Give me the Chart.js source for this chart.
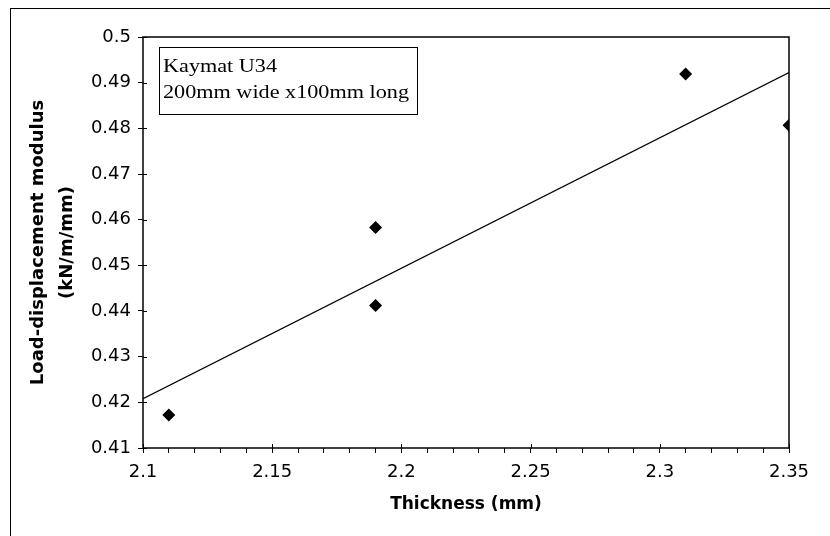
<!DOCTYPE html>
<html lang="en">

<head>
  <meta charset="UTF-8">
  <title>Load-displacement modulus vs thickness</title>
  <script src="https://cdn.jsdelivr.net/npm/chart.js"></script>
  <style>
    body {
      margin: 0;
      background: #fff;
    }

    .chart-container {
      position: relative;
      width: 830px;
      height: 536px;
    }

    /* moldura externa da figura (apenas topo e esquerda, como no original) */
    .frame {
      position: absolute;
      left: 10px;
      top: 8px;
      width: 830px;
      height: 540px;
      border-left: 1px solid #000;
      border-top: 1px solid #000;
    }
  </style>
</head>

<body>
  <div class="chart-container">
    <div class="frame"></div>
    <canvas id="modChart" width="830" height="536"></canvas>
  </div>

  <script>
    // dados
    const thickness = [2.11, 2.19, 2.19, 2.31, 2.35];
    const modulus = [0.4172, 0.4583, 0.4412, 0.4919, 0.4807];

    // linha de tendência (extremos)
    const trendX = [2.1, 2.35];
    const trendY = [0.4208, 0.4922];

    const xMin = 2.1, xMax = 2.35;
    const yMin = 0.41, yMax = 0.5;

    const boxLines = ['Kaymat U34', '200mm wide x100mm long'];
    const xTitle = 'Thickness (mm)';
    const yTitle = ['Load-displacement modulus', '(kN/m/mm)'];

    const pointsData = thickness.map((x, i) => ({ x: x, y: modulus[i] }));
    const trendData = trendX.map((x, i) => ({ x: x, y: trendY[i] }));

    const sansFont = '"DejaVu Sans", Verdana, sans-serif';

    // desenha o quadro da área do gráfico, ticks internos e a caixa de texto
    const framePlugin = {
      id: 'framePlugin',
      afterDraw(chart) {
        const ctx = chart.ctx;
        const a = chart.chartArea;
        ctx.save();
        ctx.strokeStyle = '#000';
        ctx.lineWidth = 1.5;
        ctx.strokeRect(a.left, a.top, a.right - a.left, a.bottom - a.top);

        // ticks que cruzam o eixo
        ctx.lineWidth = 1;
        const ys = chart.scales.y;
        ys.ticks.forEach(t => {
          const py = Math.round(ys.getPixelForValue(t.value)) + 0.5;
          ctx.beginPath();
          ctx.moveTo(a.left, py);
          ctx.lineTo(a.left + 4, py);
          ctx.stroke();
        });
        const xs = chart.scales.x;
        xs.ticks.forEach(t => {
          if (!t.label) return;
          const px = Math.round(xs.getPixelForValue(t.value)) + 0.5;
          ctx.beginPath();
          ctx.moveTo(px, a.bottom);
          ctx.lineTo(px, a.bottom - 4);
          ctx.stroke();
        });

        // caixa de texto
        const bx = a.left + 16, by = a.top + 10, bw = 258, bh = 67;
        ctx.fillStyle = '#fff';
        ctx.fillRect(bx, by, bw, bh);
        ctx.strokeRect(bx + 0.5, by + 0.5, bw, bh);
        ctx.fillStyle = '#000';
        ctx.font = '19px "Liberation Serif", "Times New Roman", serif';
        ctx.textBaseline = 'alphabetic';
        // o texto do original é mais largo que a Liberation Serif
        const sx = 246 / ctx.measureText(boxLines[1]).width;
        ctx.translate(bx + 4, 0);
        ctx.scale(sx, 1);
        ctx.fillText(boxLines[0], 0, by + 25);
        ctx.fillText(boxLines[1], 0, by + 51);
        ctx.restore();
      }
    };

    const ctx = document.getElementById('modChart').getContext('2d');
    const modChart = new Chart(ctx, {
      type: 'scatter',
      data: {
        datasets: [{
          label: 'Dados',
          data: pointsData,
          pointStyle: 'rectRot',
          pointRadius: 6.5,
          pointHoverRadius: 6.5,
          backgroundColor: '#000',
          borderColor: '#000',
          borderWidth: 0,
          order: 1
        }, {
          label: 'Tendência',
          data: trendData,
          showLine: true,
          pointRadius: 0,
          borderColor: '#000',
          borderWidth: 1.2,
          fill: false,
          order: 2
        }]
      },
      options: {
        responsive: false,
        animation: false,
        events: [],
        layout: {
          padding: { left: 23, top: 37, right: 41, bottom: 21 }
        },
        plugins: {
          legend: { display: false },
          tooltip: { enabled: false }
        },
        scales: {
          x: {
            type: 'linear',
            min: xMin,
            max: xMax,
            border: { display: false },
            grid: {
              drawOnChartArea: false,
              drawTicks: true,
              tickLength: 5,
              color: '#000',
              lineWidth: 1
            },
            ticks: {
              stepSize: 0.01,
              autoSkip: false,
              maxRotation: 0,
              padding: 9,
              color: '#000',
              font: { family: sansFont, size: 18 },
              callback: (v) => {
                const k = v * 20;
                return Math.abs(k - Math.round(k)) < 1e-6 ? String(+v.toFixed(2)) : '';
              }
            },
            title: {
              display: true,
              text: xTitle,
              color: '#000',
              padding: { top: 2, bottom: 0 },
              font: { family: sansFont, size: 17, weight: 'bold' }
            }
          },
          y: {
            type: 'linear',
            min: yMin,
            max: yMax,
            border: { display: false },
            grid: {
              drawOnChartArea: false,
              drawTicks: true,
              tickLength: 5,
              color: '#000',
              lineWidth: 1
            },
            ticks: {
              stepSize: 0.01,
              autoSkip: false,
              padding: 7,
              color: '#000',
              font: { family: sansFont, size: 18 },
              callback: (v) => String(+v.toFixed(2))
            },
            title: {
              display: true,
              text: yTitle,
              color: '#000',
              padding: { top: 0, bottom: 10 },
              font: { family: sansFont, size: 18, weight: 'bold', lineHeight: 1.65 }
            },
            afterFit: (scale) => { scale.width = 120; }
          }
        }
      },
      plugins: [framePlugin]
    });
  </script>
</body>

</html>
